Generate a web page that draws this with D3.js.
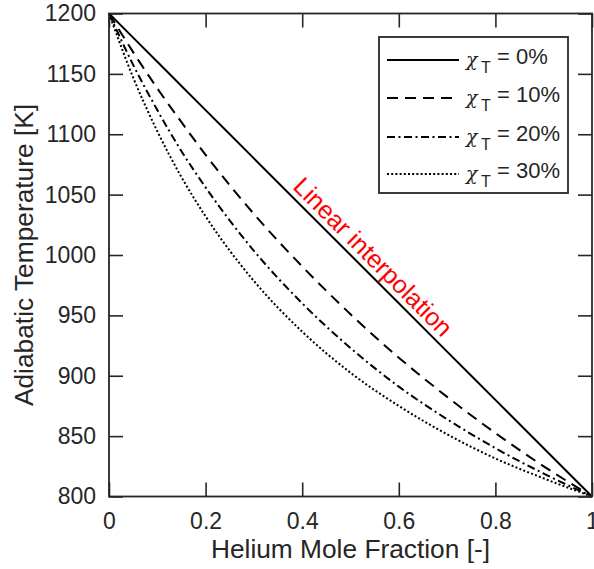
<!DOCTYPE html>
<html>
<head>
<meta charset="utf-8">
<script src="https://cdn.jsdelivr.net/npm/d3@7"></script>
<style>
  html, body { margin: 0; padding: 0; background: #fff; }
  svg { display: block; font-family: "Liberation Sans", Arial, Helvetica, sans-serif; }
</style>
</head>
<body>
<svg id="chart" width="594" height="569"></svg>
<script>
// Helium mole fraction (x) and adiabatic temperature [K] for each chi_T
const heliumFraction = [0, 0.05, 0.1, 0.15, 0.2, 0.3, 0.4, 0.5, 0.6, 0.7, 0.8, 0.9, 1];
const temp0  = [1200, 1180, 1160, 1140, 1120, 1080, 1040, 1000, 960, 920, 880, 840, 800];
const temp10 = [1200, 1168, 1138, 1110, 1083, 1034, 990.5, 951, 915, 882.5, 852.5, 825, 800];
const temp20 = [1200, 1157.5, 1120, 1086, 1056, 1003.5, 960, 923, 891, 864, 840, 819, 800];
const temp30 = [1200, 1147, 1102.5, 1064.5, 1032, 978.5, 936.5, 902.5, 875, 851.5, 831.5, 815, 800];

const seriesLabels = ["0%", "10%", "20%", "30%"];
const seriesDash = [null, "11,7", "8,3.5,2,3.5", "2,2.2"];

const xTicks = [0, 0.2, 0.4, 0.6, 0.8, 1];
const yTicks = [800, 850, 900, 950, 1000, 1050, 1100, 1150, 1200];

const xLabel = "Helium Mole Fraction [-]";
const yLabel = "Adiabatic Temperature [K]";
const noteText = "Linear interpolation";

const ink = "#262626";
const svg = d3.select("#chart");

const plotL = 109, plotR = 592, plotT = 13.5, plotB = 496.5;
const x = d3.scaleLinear().domain([0, 1]).range([plotL, plotR]);
const y = d3.scaleLinear().domain([800, 1200]).range([plotB, plotT]);

const tickFont = 23;
const labelFont = 26.3;

// axes (ticks pointing inward, mirrored on the top and right)
const fmtX = d => d === 0 ? "0" : d === 1 ? "1" : d3.format(".1f")(d);
const axB = svg.append("g").attr("transform", `translate(0,${plotB})`)
  .call(d3.axisBottom(x).tickValues(xTicks).tickFormat(fmtX).tickSizeInner(-14).tickSizeOuter(0).tickPadding(16));
const axT = svg.append("g").attr("transform", `translate(0,${plotT})`)
  .call(d3.axisTop(x).tickValues(xTicks).tickFormat("").tickSizeInner(-14).tickSizeOuter(0));
const axL = svg.append("g").attr("transform", `translate(${plotL},0)`)
  .call(d3.axisLeft(y).tickValues(yTicks).tickFormat(d3.format("d")).tickSizeInner(-14).tickSizeOuter(0).tickPadding(13));
const axR = svg.append("g").attr("transform", `translate(${plotR},0)`)
  .call(d3.axisRight(y).tickValues(yTicks).tickFormat("").tickSizeInner(-14).tickSizeOuter(0));

[axB, axT, axL, axR].forEach(g => {
  g.select(".domain").remove();
  g.selectAll(".tick line").attr("stroke", ink).attr("stroke-width", 1.6);
  g.selectAll(".tick text").attr("fill", ink).attr("font-size", tickFont)
    .attr("font-family", "Liberation Sans, Arial, sans-serif");
});

// curves
const line = d3.line().x(d => x(d[0])).y(d => y(d[1])).curve(d3.curveMonotoneX);
const allSeries = [temp0, temp10, temp20, temp30];
allSeries.forEach((vals, i) => {
  const pts = heliumFraction.map((h, j) => [h, vals[j]]);
  svg.append("path")
    .datum(pts)
    .attr("d", line)
    .attr("fill", "none")
    .attr("stroke", "#000")
    .attr("stroke-width", 2)
    .attr("stroke-dasharray", seriesDash[i]);
});

// plot box
svg.append("rect")
  .attr("x", plotL).attr("y", plotT)
  .attr("width", plotR - plotL).attr("height", plotB - plotT)
  .attr("fill", "none").attr("stroke", ink).attr("stroke-width", 1.8);

// axis labels
svg.append("text")
  .attr("x", (plotL + plotR) / 2).attr("y", 558)
  .attr("text-anchor", "middle").attr("font-size", labelFont).attr("fill", ink)
  .text(xLabel);
svg.append("text")
  .attr("transform", `translate(32.5,${(plotT + plotB) / 2}) rotate(-90)`)
  .attr("text-anchor", "middle").attr("font-size", labelFont).attr("fill", ink)
  .text(yLabel);

// annotation along the linear line
svg.append("text")
  .attr("transform", `translate(367,263) rotate(45)`)
  .attr("text-anchor", "middle").attr("font-size", 25).attr("fill", "#ff0000")
  .text(noteText);

// legend
const lg = svg.append("g");
lg.append("rect")
  .attr("x", 379).attr("y", 37).attr("width", 189).attr("height", 156)
  .attr("fill", "#fff").attr("stroke", ink).attr("stroke-width", 1.8);
const rowY = [60, 98, 137, 174];
seriesLabels.forEach((lab, i) => {
  const yy = rowY[i];
  lg.append("line")
    .attr("x1", 387).attr("x2", 459).attr("y1", yy).attr("y2", yy)
    .attr("stroke", "#000").attr("stroke-width", 2)
    .attr("stroke-dasharray", seriesDash[i]);
  lg.append("text").attr("x", 466).attr("y", yy + 6)
    .attr("font-family", "DejaVu Serif, serif").attr("font-style", "italic")
    .attr("font-size", 19).attr("fill", ink).text("χ");
  lg.append("text").attr("x", 481).attr("y", yy + 13)
    .attr("font-size", 16).attr("fill", ink).text("T");
  lg.append("text").attr("x", 497).attr("y", yy + 3.5)
    .attr("font-size", 22).attr("fill", ink).text("= " + lab);
});
</script>
</body>
</html>
